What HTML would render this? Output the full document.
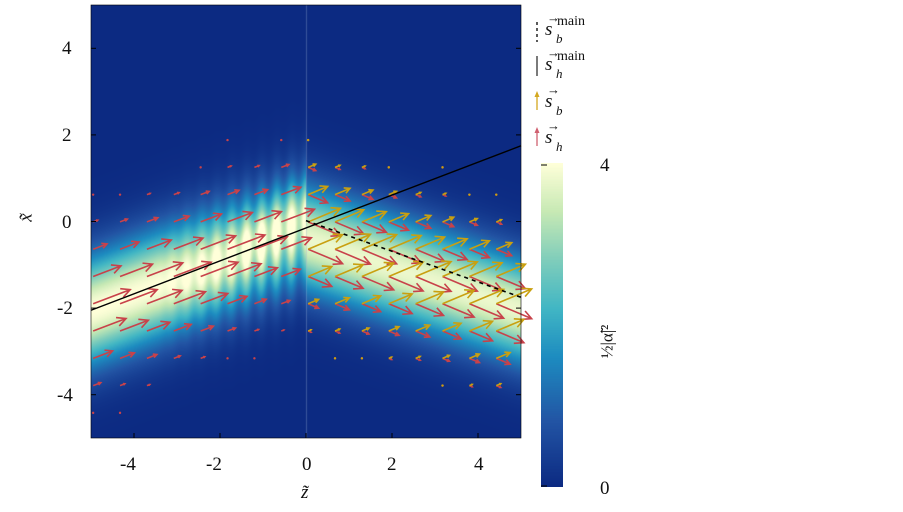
<!DOCTYPE html>
<html><head><meta charset="utf-8"><style>
body{margin:0;background:#fff;width:903px;height:512px;overflow:hidden;position:relative;font-family:"Liberation Serif",serif}
canvas{position:absolute}
.t{position:absolute;font-size:19px;color:#111;line-height:1}
.i{font-style:italic}
.sm{position:absolute;font-size:13px;color:#111;line-height:1}
</style></head><body>
<canvas id="c" width="430" height="433" style="left:91px;top:5px"></canvas>
<canvas id="cb" width="22" height="324" style="left:541px;top:163px"></canvas>
<svg id="s" width="903" height="512" style="position:absolute;left:0;top:0"></svg>
<div class="t" style="left:62px;top:39px">4</div>
<div class="t" style="left:62px;top:126px">2</div>
<div class="t" style="left:62px;top:213px">0</div>
<div class="t" style="left:57px;top:299px">-2</div>
<div class="t" style="left:57px;top:386px">-4</div>
<div class="t" style="left:120px;top:455px">-4</div>
<div class="t" style="left:206px;top:455px">-2</div>
<div class="t" style="left:302px;top:455px">0</div>
<div class="t" style="left:387px;top:455px">2</div>
<div class="t" style="left:474px;top:455px">4</div>
<div class="t i" style="left:301px;top:483px">z̃</div>
<div class="t i" style="left:22px;top:208px;transform:rotate(-90deg)">x̃</div>
<div class="t" style="left:600px;top:156px">4</div>
<div class="t" style="left:600px;top:479px">0</div>
<div class="t" style="left:590px;top:333px;transform:rotate(-90deg);font-size:17px;white-space:nowrap">½|α̃|²</div>
<div class="t i" style="left:545px;top:20px">s</div><div class="sm" style="left:547px;top:11px">→</div><div class="sm i" style="left:556px;top:32px">b</div><div class="sm" style="left:557px;top:15px;font-size:14px">main</div>
<div class="t i" style="left:545px;top:55px">s</div><div class="sm" style="left:547px;top:46px">→</div><div class="sm i" style="left:556px;top:67px">h</div><div class="sm" style="left:557px;top:50px;font-size:14px">main</div>
<div class="t i" style="left:545px;top:92px">s</div><div class="sm" style="left:547px;top:83px">→</div><div class="sm i" style="left:556px;top:104px">b</div>
<div class="t i" style="left:545px;top:128px">s</div><div class="sm" style="left:547px;top:119px">→</div><div class="sm i" style="left:556px;top:140px">h</div>
<script>
const stops=[[0,[12,42,130]],[0.2,[34,84,164]],[0.4,[29,140,192]],[0.55,[65,182,196]],[0.7,[127,205,187]],[0.85,[199,233,180]],[1,[255,255,217]]];
function cm(v){v=Math.max(0,Math.min(1,v));for(let i=1;i<stops.length;i++){if(v<=stops[i][0]){const a=stops[i-1],b=stops[i],t=(v-a[0])/(b[0]-a[0]);return a[1].map((c,k)=>Math.round(c+(b[1][k]-c)*t));}}return stops[6][1];}
function I(z,x){let v;
 if(z<0){const c=0.38*z-0.15;v=4*Math.exp(-Math.pow((x-c)/1.25,2));
  const f=Math.max(0,Math.min(1,(z+3.5)/2.5));v*=(1-0.35*f*(0.5-0.5*Math.cos(z*18)));
  v+=0.8*Math.exp(-Math.pow((x-0.6*z-0.3)/0.6,2))*f;}
 else{const c=-0.33*z-0.4;v=3.8*Math.exp(-Math.pow((x-c)/1.2,2));}
 return Math.max(0,Math.min(4,v));}
const cv=document.getElementById('c'),ctx=cv.getContext('2d'),im=ctx.createImageData(430,433);
for(let py=0;py<433;py++)for(let px=0;px<430;px++){const z=-5+px/43,x=5-py/43.3;const c=cm(I(z,x)/4);const o=(py*430+px)*4;im.data[o]=c[0];im.data[o+1]=c[1];im.data[o+2]=c[2];im.data[o+3]=255;}
ctx.putImageData(im,0,0);
ctx.fillStyle='rgba(150,170,210,0.35)';ctx.fillRect(215,0,1,433);
const cb=document.getElementById('cb').getContext('2d');
for(let y=0;y<324;y++){const c=cm(1-y/323);cb.fillStyle=`rgb(${c})`;cb.fillRect(0,y,22,1);}
const s=document.getElementById('s');let h='';
function X(z){return 91+(z+5)*43}function Y(x){return 5+(5-x)*43.3}
function arr(x0,y0,dx,dy,col){const L=Math.hypot(dx,dy);if(L<2.5){h+=`<circle cx="${x0}" cy="${y0}" r="1.2" fill="${col}"/>`;return;}
 const ux=dx/L,uy=dy/L,x1=x0+dx,y1=y0+dy,hl=Math.min(9,L*0.35);
 h+=`<path d="M${x0},${y0}L${x1},${y1}M${x1-hl*ux-hl*0.5*uy},${y1-hl*uy+hl*0.5*ux}L${x1},${y1}L${x1-hl*ux+hl*0.5*uy},${y1-hl*uy-hl*0.5*ux}" stroke="${col}" stroke-width="1.6" fill="none"/>`;}
for(let i=0;i<16;i++)for(let j=0;j<16;j++){const z=-4.95+i*0.625,x=4.4-j*0.63;const v=I(z,x)/4;
 if(v<0.02&&((i+j)%3))continue; if(v<0.005)continue;
 const px=X(z),py=Y(x);const L=40*Math.pow(v,0.8);
 if(z<0){const a=Math.atan(0.38);arr(px,py,L*Math.cos(a),-L*Math.sin(a),'#c8424a');}
 else{const a=Math.atan(0.42);arr(px,py,L*Math.cos(a),L*Math.sin(a),'#c8424a');arr(px,py,L*Math.cos(a),-L*Math.sin(a),'#c9a010');}}
h+=`<line x1="${X(-5)}" y1="${Y(-2.05)}" x2="${X(5)}" y2="${Y(1.75)}" stroke="#000" stroke-width="1.4"/>`;
h+=`<line x1="${X(0)}" y1="${Y(0.02)}" x2="${X(5)}" y2="${Y(-1.75)}" stroke="#000" stroke-width="1.6" stroke-dasharray="4,4"/>`;
h+=`<rect x="91" y="5" width="430" height="433" fill="none" stroke="#000" stroke-width="0.6"/>`;
[-4,-2,0,2,4].forEach(t=>{h+=`<line x1="${X(t)}" y1="438" x2="${X(t)}" y2="433" stroke="#000"/><line x1="91" y1="${Y(t)}" x2="96" y2="${Y(t)}" stroke="#000"/><line x1="521" y1="${Y(t)}" x2="516" y2="${Y(t)}" stroke="#000"/>`;});
h+=`<line x1="537" y1="22" x2="537" y2="42" stroke="#000" stroke-dasharray="3,3" stroke-width="1.3"/><line x1="537" y1="56" x2="537" y2="76" stroke="#333" stroke-width="1.3"/>`;
h+=`<line x1="537" y1="110" x2="537" y2="94" stroke="#d4a820" stroke-width="1.3"/><path d="M534.5,97L537,91L539.5,97Z" fill="#d4a820"/>`;
h+=`<line x1="537" y1="146" x2="537" y2="130" stroke="#d06070" stroke-width="1.3"/><path d="M534.5,133L537,127L539.5,133Z" fill="#d06070"/>`;
h+=`<line x1="541" y1="165" x2="547" y2="165" stroke="#000"/><line x1="541" y1="486" x2="547" y2="486" stroke="#000"/>`;
s.innerHTML=h;
</script>
</body></html>
